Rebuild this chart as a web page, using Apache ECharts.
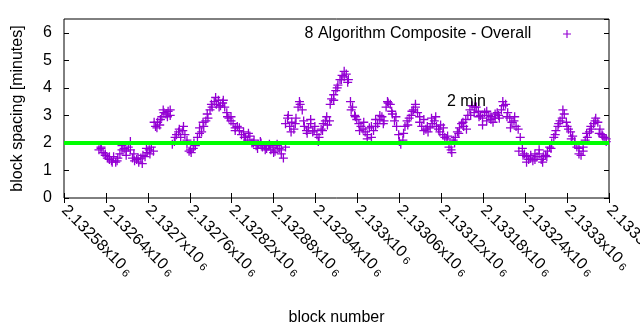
<!DOCTYPE html>
<html>
<head>
<meta charset="utf-8">
<script src="https://cdn.jsdelivr.net/npm/echarts@6/dist/echarts.min.js"></script>
<style>
  html, body { margin: 0; padding: 0; background: #fff; }
  #chart { width: 640px; height: 330px; }
</style>
</head>
<body>
<div id="chart"></div>
<script>
// block numbers (one sample every 3 blocks)
var blocks = [
    2132630, 2132633, 2132636, 2132639, 2132642, 2132645, 2132648, 2132651, 2132654, 2132657,
    2132660, 2132663, 2132666, 2132669, 2132672, 2132675, 2132678, 2132681, 2132684, 2132687,
    2132690, 2132693, 2132696, 2132699, 2132702, 2132705, 2132708, 2132711, 2132714, 2132717,
    2132720, 2132723, 2132726, 2132729, 2132732, 2132735, 2132738, 2132741, 2132744, 2132747,
    2132750, 2132753, 2132756, 2132759, 2132762, 2132765, 2132768, 2132771, 2132774, 2132777,
    2132780, 2132783, 2132786, 2132789, 2132792, 2132795, 2132798, 2132801, 2132804, 2132807,
    2132810, 2132813, 2132816, 2132819, 2132822, 2132825, 2132828, 2132831, 2132834, 2132837,
    2132840, 2132843, 2132846, 2132849, 2132852, 2132855, 2132858, 2132861, 2132864, 2132867,
    2132870, 2132873, 2132876, 2132879, 2132882, 2132885, 2132888, 2132891, 2132894, 2132897,
    2132900, 2132903, 2132906, 2132909, 2132912, 2132915, 2132918, 2132921, 2132924, 2132927,
    2132930, 2132933, 2132936, 2132939, 2132942, 2132945, 2132948, 2132951, 2132954, 2132957,
    2132960, 2132963, 2132966, 2132969, 2132972, 2132975, 2132978, 2132981, 2132984, 2132987,
    2132990, 2132993, 2132996, 2132999, 2133002, 2133005, 2133008, 2133011, 2133014, 2133017,
    2133020, 2133023, 2133026, 2133029, 2133032, 2133035, 2133038, 2133041, 2133044, 2133047,
    2133050, 2133053, 2133056, 2133059, 2133062, 2133065, 2133068, 2133071, 2133074, 2133077,
    2133080, 2133083, 2133086, 2133089, 2133092, 2133095, 2133098, 2133101, 2133104, 2133107,
    2133110, 2133113, 2133116, 2133119, 2133122, 2133125, 2133128, 2133131, 2133134, 2133137,
    2133140, 2133143, 2133146, 2133149, 2133152, 2133155, 2133158, 2133161, 2133164, 2133167,
    2133170, 2133173, 2133176, 2133179, 2133182, 2133185, 2133188, 2133191, 2133194, 2133197,
    2133200, 2133203, 2133206, 2133209, 2133212, 2133215, 2133218, 2133221, 2133224, 2133227,
    2133230, 2133233, 2133236, 2133239, 2133242, 2133245, 2133248, 2133251, 2133254, 2133257,
    2133260, 2133263, 2133266, 2133269, 2133272, 2133275, 2133278, 2133281, 2133284, 2133287,
    2133290, 2133293, 2133296, 2133299, 2133302, 2133305, 2133308, 2133311, 2133314, 2133317,
    2133320, 2133323, 2133326, 2133329, 2133332, 2133335, 2133338, 2133341, 2133344, 2133347,
    2133350, 2133353, 2133356
];

// block spacing in minutes, same order as blocks
var spacing = [
    1.75, 1.8, 1.65, 1.55, 1.45, 1.4, 1.35, 1.5, 1.3, 1.45,
    1.6, 1.75, 1.8, 1.7, 1.85, 1.75, 1.45, 1.35, 1.4, 1.3,
    1.45, 1.55, 1.5, 1.65, 1.75, 1.85, 1.7, 2.6, 2.75, 2.65,
    2.95, 3.1, 3.05, 3.15, 3.0, 1.95, 2.05, 2.3, 2.4, 2.2,
    2.45, 2.3, 2.1, 1.7, 1.65, 1.8, 1.9, 2.2, 2.35, 2.4,
    2.6, 2.8, 2.9, 3.2, 3.3, 3.5, 3.4, 3.55, 3.35, 3.45,
    3.3, 3.1, 2.9, 2.8, 2.7, 2.55, 2.6, 2.45, 2.3, 2.4,
    2.2, 2.1, 2.25, 2.0, 2.1, 1.9, 1.95, 2.05, 1.85, 1.9,
    1.8, 1.9, 1.75, 1.85, 1.7, 1.9, 1.8, 1.75, 1.45, 1.85,
    2.9, 2.6, 2.75, 2.5, 2.9, 3.3, 3.4, 3.2, 2.6, 2.45,
    2.55, 2.7, 2.4, 2.6, 2.3, 2.2, 2.5, 2.7, 2.8, 2.65,
    2.8, 3.6, 3.75, 3.9, 4.1, 4.3, 4.45, 4.4, 4.5, 4.3,
    3.5, 3.3, 3.0, 2.85, 2.7, 2.6, 2.5, 2.4, 2.3, 2.55,
    2.2, 2.45, 2.6, 2.7, 2.85, 2.95, 2.8, 3.3, 3.45, 3.4,
    3.05, 2.8, 2.6, 2.3, 1.95, 2.1, 2.6, 2.8, 2.9, 3.0,
    3.2, 3.3, 3.1, 2.75, 2.6, 2.85, 2.5, 2.4, 2.55, 2.7,
    2.8, 2.6, 2.5, 2.65, 2.3, 2.2, 2.15, 1.85, 1.75, 2.1,
    2.2, 2.4, 2.55, 2.7, 2.6, 2.85, 3.0, 3.2, 3.35, 3.1,
    3.3, 3.15, 3.0, 2.9, 3.1, 2.8, 3.0, 2.95, 2.75, 3.05,
    3.1, 2.9, 3.2, 3.35, 3.4, 3.1, 2.9, 2.75, 2.8, 2.6,
    2.5, 2.2, 1.8, 1.6, 1.5, 1.4, 1.45, 1.35, 1.6, 1.5,
    1.75, 1.4, 1.5, 1.55, 1.7, 1.85, 2.0, 2.2, 2.45, 2.6,
    2.8, 2.9, 3.05, 2.75, 2.5, 2.4, 2.25, 2.05, 1.85, 1.8,
    1.55, 1.85, 2.1, 2.2, 2.4, 2.5, 2.7, 2.9, 2.75, 2.5,
    2.3, 2.2, 2.15
];

// scattered points lying off the main band
var extraBlocks = [
    2132633, 2132639, 2132645, 2132649, 2132656, 2132663, 2132669, 2132675, 2132680, 2132686,
    2132692, 2132698, 2132703, 2132709, 2132713, 2132718, 2132722, 2132728, 2132732, 2132739,
    2132745, 2132751, 2132756, 2132761, 2132766, 2132774, 2132779, 2132785, 2132791, 2132797,
    2132802, 2132808, 2132814, 2132819, 2132825, 2132831, 2132838, 2132844, 2132851, 2132857,
    2132862, 2132868, 2132874, 2132880, 2132885, 2132891, 2132897, 2132901, 2132905, 2132911,
    2132917, 2132923, 2132928, 2132933, 2132938, 2132944, 2132950, 2132956, 2132961, 2132966,
    2132971, 2132977, 2132981, 2132986, 2132991, 2132997, 2133003, 2133009, 2133014, 2133020,
    2133026, 2133032, 2133037, 2133043, 2133049, 2133055, 2133060, 2133066, 2133072, 2133078,
    2133083, 2133089, 2133095, 2133100, 2133106, 2133112, 2133118, 2133123, 2133129, 2133135,
    2133139, 2133145, 2133151, 2133156, 2133162, 2133168, 2133174, 2133179, 2133185, 2133191,
    2133197, 2133202, 2133208, 2133214, 2133219, 2133225, 2133231, 2133237, 2133242, 2133248,
    2133254, 2133260, 2133265, 2133271, 2133277, 2133283, 2133288, 2133294, 2133300, 2133306,
    2133311, 2133317, 2133323, 2133328, 2133334, 2133340, 2133346, 2133351, 2133356
];

var extraSpacing = [
    1.85, 1.6, 1.5, 1.3, 1.35, 1.9, 1.55, 2.05, 1.6, 1.45,
    1.25, 1.8, 1.6, 2.75, 2.55, 2.85, 3.2, 2.95, 3.2, 2.2,
    2.5, 2.6, 1.95, 1.75, 2.0, 2.55, 2.75, 3.05, 3.4, 3.65,
    3.3, 3.55, 2.95, 2.95, 2.45, 2.55, 2.2, 2.35, 2.0, 1.8,
    2.0, 1.75, 1.95, 1.65, 1.95, 1.6, 2.7, 3.0, 2.4, 2.7,
    3.5, 2.8, 2.35, 2.85, 2.45, 2.05, 2.45, 2.95, 3.4, 3.55,
    4.0, 4.3, 4.6, 4.2, 3.2, 2.95, 2.45, 2.75, 2.15, 2.6,
    2.85, 3.0, 2.7, 3.5, 3.15, 2.95, 2.05, 2.35, 2.65, 3.15,
    3.4, 2.95, 2.45, 2.6, 2.9, 2.95, 2.4, 2.55, 2.25, 1.65,
    2.0, 2.35, 2.75, 2.5, 3.0, 3.3, 2.95, 2.65, 3.15, 2.85,
    2.9, 3.0, 3.5, 2.95, 2.55, 2.95, 1.7, 1.55, 1.3, 1.55,
    1.4, 1.6, 1.3, 1.5, 1.8, 2.3, 2.7, 3.2, 2.6, 2.15,
    1.95, 1.6, 1.7, 2.35, 2.6, 2.8, 2.35, 2.25, 2.05
];

var xTickLabels = [
    "2.13258", "2.13264", "2.1327", "2.13276", "2.13282", "2.13288", "2.13294",
    "2.133", "2.13306", "2.13312", "2.13318", "2.13324", "2.1333", "2.13336"
];

var seriesName = "8 Algorithm Composite - Overall";
var targetMinutes = 2;
var targetLabel = "2 min";
var targetLabelAt = [2133128, 3.5];

var fontFamily = "'Liberation Sans', Arial, sans-serif";
var plusPath = "path://M0,3.85H9V5.15H0Z M3.85,0H5.15V9H3.85Z";

function build_option() {
    let points = [];
    for (let i = 0; i < blocks.length; i++) {
        points.push([blocks[i], spacing[i]]);
    }
    for (let i = 0; i < extraBlocks.length; i++) {
        points.push([extraBlocks[i], extraSpacing[i]]);
    }

    let xBase = {
        type: "value",
        min: 2132580,
        max: 2133360,
        interval: 60,
        splitLine: { show: false },
        axisLine: { show: false },
        axisTick: { show: true, inside: true, length: 5, lineStyle: { color: "#000" } }
    };
    let yBase = {
        type: "value",
        min: 0,
        max: 6.5,
        interval: 1,
        splitLine: { show: false },
        axisLine: { show: false },
        axisTick: { show: true, inside: true, length: 5, lineStyle: { color: "#000" } }
    };

    return {
        animation: false,
        backgroundColor: "#fff",
        textStyle: { fontFamily: fontFamily, color: "#000" },
        grid: {
            left: 64, right: 31, top: 19, bottom: 132,
            outerBoundsMode: "none",
            containLabel: false,
            show: true, borderColor: "#000", borderWidth: 1
        },
        legend: {
            data: [{ name: seriesName, icon: plusPath }],
            selectedMode: false,
            align: "right",
            right: 64,
            top: 21,
            itemWidth: 8,
            itemHeight: 8,
            formatter: function (name) { return name + "      "; },
            textStyle: { fontFamily: fontFamily, fontSize: 16, color: "#000" }
        },
        xAxis: [
            Object.assign({}, xBase, {
                position: "bottom",
                name: "block number",
                nameLocation: "middle",
                nameGap: 112,
                nameTextStyle: { fontFamily: fontFamily, fontSize: 16, color: "#000" },
                axisLabel: {
                    rotate: -45,
                    margin: 10,
                    color: "#000",
                    hideOverlap: false,
                    formatter: function (v, idx) {
                        return "{m|" + xTickLabels[idx] + "x10}{e|6}";
                    },
                    rich: {
                        m: { fontFamily: fontFamily, fontSize: 16, color: "#000" },
                        e: { fontFamily: fontFamily, fontSize: 11, color: "#000", padding: [6, 0, 0, 3] }
                    }
                }
            }),
            Object.assign({}, xBase, { position: "top", axisLabel: { show: false } })
        ],
        yAxis: [
            Object.assign({}, yBase, {
                position: "left",
                name: "block spacing [minutes]",
                nameLocation: "middle",
                nameRotate: 90,
                nameGap: 38,
                nameTextStyle: { fontFamily: fontFamily, fontSize: 16, color: "#000" },
                axisLabel: { margin: 12, fontFamily: fontFamily, fontSize: 16, color: "#000" }
            }),
            Object.assign({}, yBase, { position: "right", axisLabel: { show: false } })
        ],
        series: [
            {
                name: seriesName,
                type: "scatter",
                symbol: plusPath,
                symbolSize: 9,
                itemStyle: { color: "#9400d3", opacity: 1 },
                data: points,
                z: 2
            },
            {
                name: "target",
                type: "line",
                data: [],
                z: 5,
                markLine: {
                    silent: true,
                    symbol: ["none", "none"],
                    label: { show: false },
                    lineStyle: { color: "#00ff00", width: 4, type: "solid" },
                    data: [{ yAxis: targetMinutes }]
                },
                markPoint: {
                    silent: true,
                    symbol: "circle",
                    symbolSize: 0,
                    label: {
                        show: true,
                        position: "right",
                        distance: 0,
                        formatter: targetLabel,
                        fontFamily: fontFamily,
                        fontSize: 16,
                        color: "#000"
                    },
                    data: [{ coord: targetLabelAt }]
                }
            }
        ]
    };
}

function main() {
    let chart = echarts.init(document.getElementById("chart"), null, { renderer: "canvas" });
    chart.setOption(build_option());
}

main();
</script>
</body>
</html>
